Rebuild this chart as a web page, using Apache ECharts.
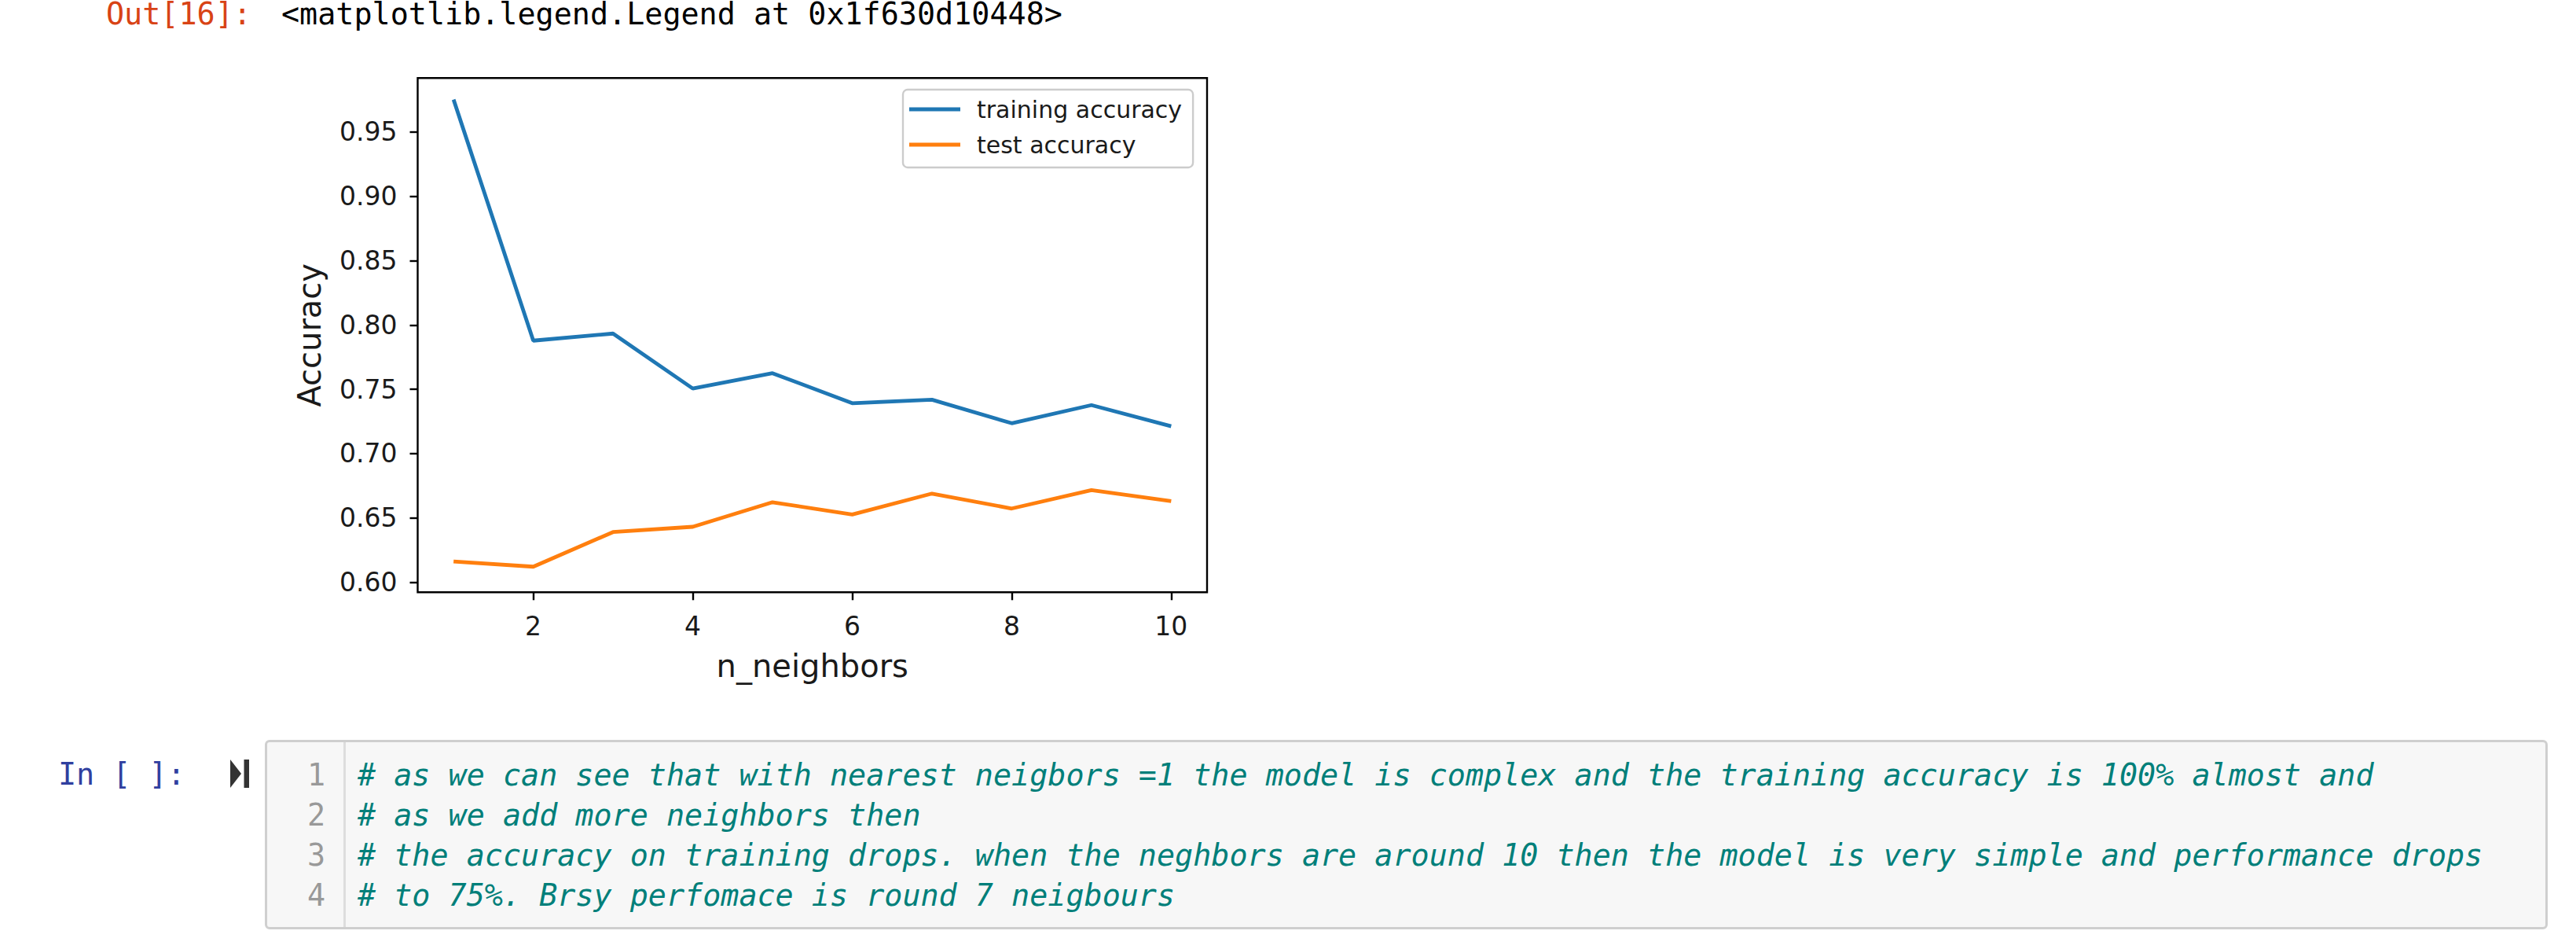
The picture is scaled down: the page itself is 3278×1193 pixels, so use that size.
<!DOCTYPE html>
<html>
<head>
<meta charset="utf-8">
<script src="https://cdn.jsdelivr.net/npm/echarts@6/dist/echarts.min.js"></script>
<style>
  html, body { margin:0; padding:0; background:#fff; width:3278px; height:1193px; overflow:hidden; position:relative; }
  .mono { position:absolute; font-family:"DejaVu Sans Mono", monospace; font-size:38.4px; line-height:51px; white-space:pre; }
  .out { line-height:36px; top:0; }
  #chart { position:absolute; left:0; top:0; width:1700px; height:920px; }
  #cell { position:absolute; left:337px; top:941px; width:2905px; height:241px; background:#f7f7f7; border:3px solid #cfcfcf; border-radius:6px; box-sizing:border-box; }
  #gutter { position:absolute; left:0; top:0; width:100px; height:100%; border-right:3px solid #dddddd; box-sizing:border-box; }
  .comment { color:#007f7a; font-style:italic; }
</style>
</head>
<body>
<div id="chart"></div>
<div class="mono out" style="left:135px; color:#D84315;">Out[16]:</div>
<div class="mono out" style="left:358px; color:#000;">&lt;matplotlib.legend.Legend at 0x1f630d10448&gt;</div>
<div class="mono" style="left:74px; top:959px; color:#303F9F;">In [ ]:</div>
<svg style="position:absolute; left:290px; top:964px;" width="30" height="40">
  <polygon points="3,2 17,20 3,38" fill="#333"/>
  <rect x="20.5" y="2" width="6.5" height="36" fill="#333"/>
</svg>
<div id="cell"><div id="gutter"></div></div>
<div class="mono" id="linenos" style="left:338px; width:76px; top:959.5px; color:#999; text-align:right;"></div>
<div class="mono comment" id="code" style="left:455px; top:959.5px;"></div>
<script>
// ---- notebook text ----
const codeLines = [
  "# as we can see that with nearest neigbors =1 the model is complex and the training accuracy is 100% almost and",
  "# as we add more neighbors then",
  "# the accuracy on training drops. when the neghbors are around 10 then the model is very simple and performance drops",
  "# to 75%. Brsy perfomace is round 7 neigbours"
];
document.getElementById('code').textContent = codeLines.join('\n');
document.getElementById('linenos').textContent = codeLines.map((_, i) => String(i + 1)).join('\n');

// ---- chart data ----
const neighbors = [1, 2, 3, 4, 5, 6, 7, 8, 9, 10];
const trainingAccuracy = [0.9752, 0.7878, 0.7933, 0.7506, 0.7625, 0.7392, 0.7419, 0.7236, 0.7377, 0.7213];
const testAccuracy = [0.6162, 0.6121, 0.6390, 0.6431, 0.6622, 0.6527, 0.6689, 0.6573, 0.6716, 0.6631];
const xTicks = [2, 4, 6, 8, 10];
const yTicks = [0.60, 0.65, 0.70, 0.75, 0.80, 0.85, 0.90, 0.95];
const seriesNames = ['training accuracy', 'test accuracy'];
const xLabel = 'n_neighbors';
const yLabel = 'Accuracy';

const chart = echarts.init(document.getElementById('chart'), null, { renderer: 'svg' });
const font = 'DejaVu Sans';
chart.setOption({
  animation: false,
  backgroundColor: 'transparent',
  grid: {
    left: 531.5, top: 99.3, width: 1004.5, height: 654,
    show: true, borderColor: '#000', borderWidth: 2.4, backgroundColor: '#fff'
  },
  legend: {
    orient: 'vertical',
    left: 1149, top: 114,
    padding: [10, 14, 14, 8],
    itemGap: 15,
    icon: 'rect',
    itemWidth: 65, itemHeight: 5,
    backgroundColor: 'rgba(255,255,255,0.8)',
    borderColor: '#cccccc', borderWidth: 2.4, borderRadius: 6,
    textStyle: { fontFamily: font, fontSize: 30, color: '#1a1a1a', padding: [0, 0, 0, 16], lineHeight: 30 },
    data: seriesNames
  },
  xAxis: {
    type: 'value', min: 0.55, max: 10.45,
    name: xLabel, nameLocation: 'middle', nameGap: 74,
    nameTextStyle: { fontFamily: font, fontSize: 40, color: '#1a1a1a' },
    axisLine: { show: false },
    axisTick: { show: true, length: 10, lineStyle: { color: '#000', width: 2.4 }, customValues: xTicks },
    axisLabel: { fontFamily: font, fontSize: 33, color: '#1a1a1a', margin: 27, customValues: xTicks, formatter: v => String(v) },
    splitLine: { show: false }
  },
  yAxis: {
    type: 'value', min: 0.5922, max: 0.9919,
    name: yLabel, nameLocation: 'middle', nameGap: 118, nameRotate: 90,
    nameTextStyle: { fontFamily: font, fontSize: 40, color: '#1a1a1a' },
    axisLine: { show: false },
    axisTick: { show: true, length: 10, lineStyle: { color: '#000', width: 2.4 }, customValues: yTicks },
    axisLabel: { fontFamily: font, fontSize: 33, color: '#1a1a1a', margin: 26, customValues: yTicks, formatter: v => v.toFixed(2) },
    splitLine: { show: false }
  },
  series: [
    {
      name: seriesNames[0], type: 'line', symbol: 'none',
      lineStyle: { color: '#1f77b4', width: 4.8 }, itemStyle: { color: '#1f77b4' },
      data: neighbors.map((n, i) => [n, trainingAccuracy[i]])
    },
    {
      name: seriesNames[1], type: 'line', symbol: 'none',
      lineStyle: { color: '#ff7f0e', width: 4.8 }, itemStyle: { color: '#ff7f0e' },
      data: neighbors.map((n, i) => [n, testAccuracy[i]])
    }
  ]
});
</script>
</body>
</html>
